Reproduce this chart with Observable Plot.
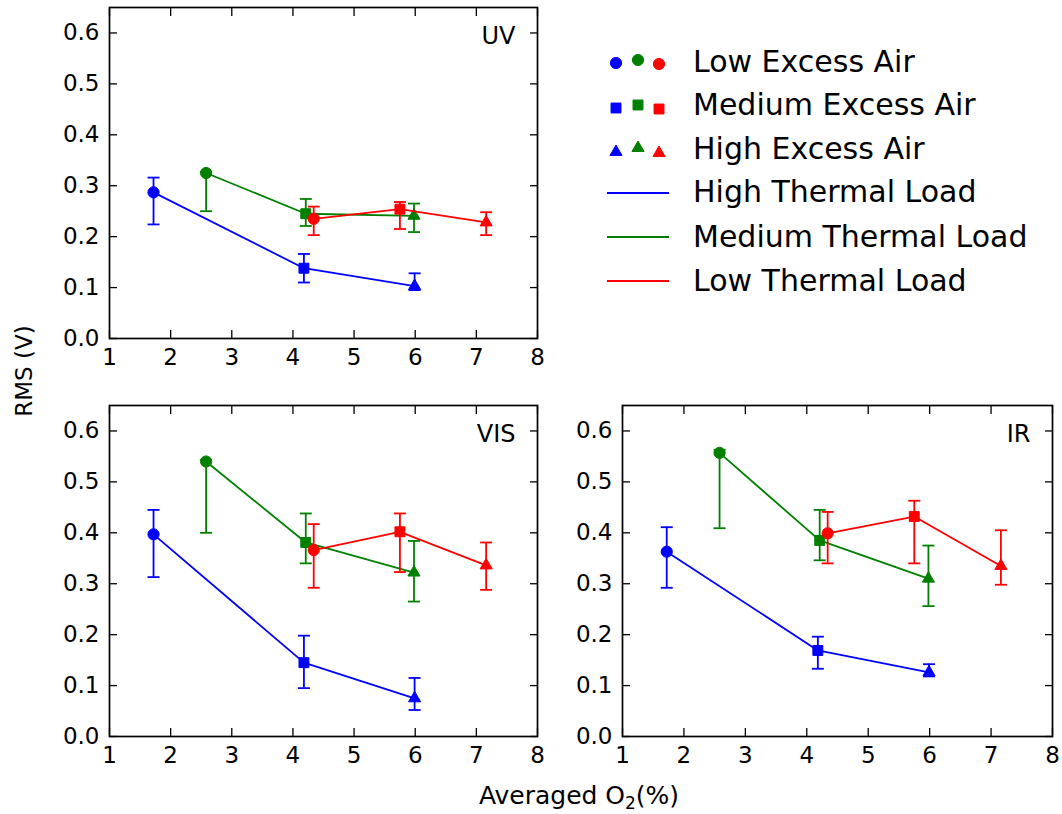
<!DOCTYPE html>
<html><head><meta charset="utf-8">
<script src="https://cdn.jsdelivr.net/npm/d3@7"></script>
<script src="https://cdn.jsdelivr.net/npm/@observablehq/plot@0.6"></script>
<style>
body{margin:0;background:#fff;font-family:"DejaVu Sans",sans-serif;}
#root{position:relative;width:1062px;height:814px;overflow:hidden;background:#fff;}
#root > svg{position:absolute;}
</style></head><body><div id="root"></div>
<script>
const panelNames = ["UV", "VIS", "IR"];
const thermalLoads = ["High Thermal Load", "Medium Thermal Load", "Low Thermal Load"];
const excessAir = ["Low Excess Air", "Medium Excess Air", "High Excess Air"];
const loadColors = ["#0000ff", "#008000", "#ff0000"];
const airSymbols = ["circle", "square", "triangle"];
const xTicks = [1, 2, 3, 4, 5, 6, 7, 8];
const xTickLabels = ["1", "2", "3", "4", "5", "6", "7", "8"];
const yTicks = [0, 0.1, 0.2, 0.3, 0.4, 0.5, 0.6];
const yTickLabels = ["0.0", "0.1", "0.2", "0.3", "0.4", "0.5", "0.6"];
const xDomain = [1, 8];
const yDomain = [0, 0.65];

// Averaged O2 (%) per thermal load, columns = low / medium / high excess air
const o2High = [1.72, 4.18, 5.99];
const o2Medium = [2.58, 4.21, 5.98];
const o2Low = [4.34, 5.75, 7.16];

// RMS (V): rows = high / medium / low thermal load
const uvMean = [[0.287, 0.138, 0.103], [0.325, 0.245, 0.241], [0.235, 0.254, 0.228]];
const uvLower = [[0.224, 0.110, 0.095], [0.250, 0.221, 0.209], [0.203, 0.215, 0.203]];
const uvUpper = [[0.316, 0.166, 0.128], [0.327, 0.274, 0.265], [0.259, 0.268, 0.248]];

const visMean = [[0.397, 0.145, 0.075], [0.540, 0.381, 0.322], [0.366, 0.402, 0.336]];
const visLower = [[0.313, 0.095, 0.052], [0.400, 0.340, 0.265], [0.292, 0.323, 0.288]];
const visUpper = [[0.445, 0.198, 0.115], [0.543, 0.438, 0.384], [0.417, 0.438, 0.381]];

const irMean = [[0.363, 0.169, 0.126], [0.557, 0.385, 0.310], [0.399, 0.432, 0.335]];
const irLower = [[0.292, 0.133, 0.118], [0.409, 0.346, 0.256], [0.340, 0.340, 0.298]];
const irUpper = [[0.411, 0.196, 0.142], [0.563, 0.445, 0.375], [0.441, 0.463, 0.405]];

const o2ByLoad = [o2High, o2Medium, o2Low];
const markerR = [5.6, 5.6, 4.5];
const cap = {draw(ctx, size) { const w = Math.sqrt(size / Math.PI); ctx.moveTo(-w, 0); ctx.lineTo(w, 0); }};

function buildRows(mean, lower, upper) {
  const rows = [];
  thermalLoads.forEach((load, i) => excessAir.forEach((air, j) => {
    rows.push({load, air, o2: o2ByLoad[i][j], rms: mean[i][j], lo: lower[i][j], hi: upper[i][j]});
  }));
  return rows;
}

function panel(name, mean, lower, upper, box) {
  const rows = buildRows(mean, lower, upper);
  const seriesMarks = thermalLoads.flatMap((load) => {
    const d = rows.filter((r) => r.load === load);
    return [
      Plot.line(d, {x: "o2", y: "rms", stroke: "load", strokeWidth: 1.8}),
      Plot.ruleX(d, {x: "o2", y1: "lo", y2: "hi", stroke: "load", strokeWidth: 1.8}),
      Plot.dot(d, {x: "o2", y: "lo", symbol: cap, r: 6, stroke: "load", strokeWidth: 1.8, fill: "none"}),
      Plot.dot(d, {x: "o2", y: "hi", symbol: cap, r: 6, stroke: "load", strokeWidth: 1.8, fill: "none"}),
      ...excessAir.map((air, j) => Plot.dot(d.filter((r) => r.air === air), {
        x: "o2", y: "rms", symbol: airSymbols[j], r: markerR[j], fill: "load", stroke: "load", strokeWidth: 1
      }))
    ];
  });
  const svg = Plot.plot({
    width: box.width, height: box.height,
    marginLeft: box.ml, marginRight: box.mr, marginTop: box.mt, marginBottom: box.mb,
    style: {fontFamily: "DejaVu Sans", fontSize: "23px", color: "#000", background: "transparent", overflow: "visible"},
    x: {domain: xDomain},
    y: {domain: yDomain},
    color: {domain: thermalLoads, range: loadColors},
    marks: [
      ...seriesMarks,
      Plot.axisX(xTicks, {anchor: "bottom", tickSize: -8, tickPadding: 18, tickFormat: (d) => xTickLabels[xTicks.indexOf(d)], label: null, fontSize: 23, strokeWidth: 1.3}),
      Plot.axisX(xTicks, {anchor: "top", tickSize: -8, tickFormat: () => "", label: null, strokeWidth: 1.3}),
      Plot.axisY(yTicks, {anchor: "left", tickSize: -8, tickPadding: 18, tickFormat: (d) => yTickLabels[yTicks.indexOf(d)], label: null, fontSize: 23, strokeWidth: 1.3}),
      Plot.axisY(yTicks, {anchor: "right", tickSize: -8, tickFormat: () => "", label: null, strokeWidth: 1.3}),
      Plot.frame({stroke: "#000", strokeWidth: 1.7}),
      Plot.text([name], {frameAnchor: "top-right", dx: -22, dy: 19, lineAnchor: "top", textAnchor: "end", fontSize: 24, fill: "#000"})
    ]
  });
  svg.style.left = box.left + "px";
  svg.style.top = box.top + "px";
  return svg;
}

const root = document.getElementById("root");
root.appendChild(panel(panelNames[0], uvMean, uvLower, uvUpper, {left: 0, top: 0, width: 560, height: 380, ml: 109, mr: 23, mt: 7, mb: 42}));
root.appendChild(panel(panelNames[1], visMean, visLower, visUpper, {left: 0, top: 398, width: 560, height: 380, ml: 109, mr: 23, mt: 7, mb: 42}));
root.appendChild(panel(panelNames[2], irMean, irLower, irUpper, {left: 560, top: 398, width: 502, height: 380, ml: 62, mr: 10, mt: 7, mb: 42}));

// Overlay: legend and axis titles
const ov = d3.select(root).append("svg").attr("width", 1062).attr("height", 814)
  .style("left", "0px").style("top", "0px").style("pointer-events", "none")
  .attr("font-family", "DejaVu Sans");

const legCols = [616, 638, 659];
const legMarkerY = [[63, 60, 64], [108, 105, 109], [152, 148, 153]];
const legBaselines = [72, 115, 159, 202, 247, 291];
const legLineY = [193, 237, 281];
excessAir.forEach((air, j) => {
  loadColors.forEach((c, k) => {
    const sz = markerR[j] * markerR[j] * Math.PI;
    ov.append("path")
      .attr("d", d3.symbol(d3["symbol" + airSymbols[j][0].toUpperCase() + airSymbols[j].slice(1)], sz)())
      .attr("transform", `translate(${legCols[k]},${legMarkerY[j][k]})`)
      .attr("fill", c).attr("stroke", c).attr("stroke-width", 1);
  });
  ov.append("text").attr("x", 693).attr("y", legBaselines[j]).attr("font-size", 30).attr("fill", "#000").text(air);
});
thermalLoads.forEach((load, i) => {
  ov.append("line").attr("x1", 607).attr("x2", 669).attr("y1", legLineY[i]).attr("y2", legLineY[i])
    .attr("stroke", loadColors[i]).attr("stroke-width", 1.8);
  ov.append("text").attr("x", 693).attr("y", legBaselines[i + 3]).attr("font-size", 30).attr("fill", "#000").text(load);
});

ov.append("text").attr("transform", "translate(32,371) rotate(-90)").attr("text-anchor", "middle")
  .attr("font-size", 23).attr("fill", "#000").text("RMS (V)");
const xl = ov.append("text").attr("x", 579).attr("y", 804).attr("text-anchor", "middle").attr("font-size", 25).attr("fill", "#000");
xl.append("tspan").text("Averaged O");
xl.append("tspan").attr("font-size", 17).attr("dy", 5).text("2");
xl.append("tspan").attr("dy", -5).text("(%)");
</script></body></html>
